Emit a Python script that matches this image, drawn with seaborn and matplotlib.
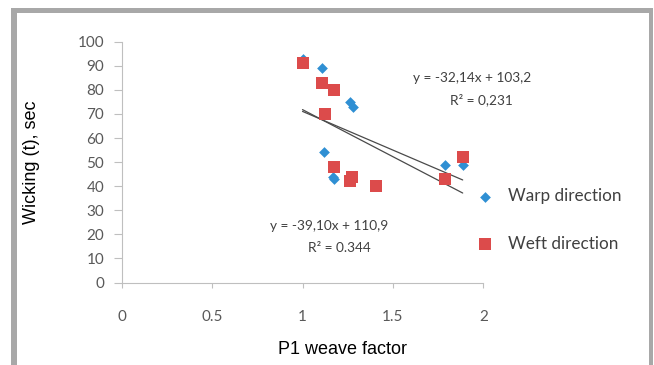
import matplotlib
matplotlib.use("Agg")
import matplotlib.pyplot as plt
from matplotlib.patches import Rectangle
import numpy as np
import pandas as pd
import seaborn as sns

# ---- data ----
warp_x = [1.00, 1.11, 1.263, 1.278, 1.121, 1.17, 1.175, 1.788, 1.886]
warp_y = [93, 89, 75, 73, 54, 44, 43, 49, 49]
weft_x = [1.00, 1.108, 1.174, 1.124, 1.174, 1.275, 1.263, 1.408, 1.788, 1.886]
weft_y = [91, 83, 80, 70, 48, 44, 42, 40, 43, 52]
series_names = ["Warp direction", "Weft direction"]
trend_slopes = [-32.14, -39.10]
trend_intercepts = [103.2, 110.9]
x_ticks = [0, 0.5, 1, 1.5, 2]
x_ticklabels = ["0", "0.5", "1", "1.5", "2"]
y_ticks = [0, 10, 20, 30, 40, 50, 60, 70, 80, 90, 100]

W, H = 654, 365
sns.set_theme(style="white")
plt.rcParams["font.family"] = ["Lato", "DejaVu Sans"]

fig = plt.figure(figsize=(W / 100, H / 100), dpi=100)
fig.patch.set_facecolor("white")
ax = fig.add_axes([121.7 / W, 1 - 282.5 / H, (483.3 - 121.7) / W, (282.5 - 41.7) / H])

warp_df = pd.DataFrame({"x": warp_x, "y": warp_y})
weft_df = pd.DataFrame({"x": weft_x, "y": weft_y})

# trend lines
all_x = warp_x + weft_x
xr = np.array([min(all_x), max(all_x)])
for m, b in zip(trend_slopes, trend_intercepts):
    tl = pd.DataFrame({"x": xr, "y": m * xr + b})
    sns.lineplot(data=tl, x="x", y="y", ax=ax, color="#4a4a4a", linewidth=0.9, zorder=2, legend=False)

blue = "#2F8FD3"
red = "#DC4B4B"
sns.scatterplot(data=warp_df, x="x", y="y", ax=ax, marker="D", s=30, color=blue,
                linewidth=0, zorder=3, label=series_names[0])
sns.scatterplot(data=weft_df, x="x", y="y", ax=ax, marker="s", s=72, color=red,
                linewidth=0, zorder=4, label=series_names[1])

ax.set_xlim(0, 2)
ax.set_ylim(0, 100)
ax.set_xticks(x_ticks)
ax.set_xticklabels(x_ticklabels)
ax.set_yticks(y_ticks)
ax.set_xlabel("")
ax.set_ylabel("")
for s in ["top", "right"]:
    ax.spines[s].set_visible(False)
for s in ["left", "bottom"]:
    ax.spines[s].set_color("#bfbfbf")
    ax.spines[s].set_linewidth(0.8)
ax.tick_params(axis="x", direction="out", length=3.6, width=0.8, color="#bfbfbf",
               pad=16, labelsize=11, labelcolor="#595959", bottom=True)
ax.tick_params(axis="y", direction="out", length=5.5, width=0.8, color="#bfbfbf",
               pad=7, labelsize=11, labelcolor="#595959", left=True)

# equation annotations
ax.text(1.937, 85.0, "y = -32,14x + 103,2", ha="center", va="center", fontsize=9.8, color="#404040")
ax.text(1.99, 75.8, "R² = 0,231", ha="center", va="center", fontsize=9.8, color="#404040")
ax.text(1.149, 23.5, "y = -39,10x + 110,9", ha="center", va="center", fontsize=9.8, color="#404040")
ax.text(1.205, 14.3, "R² = 0.344", ha="center", va="center", fontsize=9.8, color="#404040")

# legend
leg = ax.legend(loc="center left", bbox_to_anchor=(476 / W, 1 - 220 / H),
                bbox_transform=fig.transFigure, frameon=False, fontsize=12.3,
                handlelength=1.0, handletextpad=0.85, labelspacing=1.85, borderpad=0,
                borderaxespad=0)
for t in leg.get_texts():
    t.set_color("#404040")

# axis titles
fig.text(343 / W, 1 - 349 / H, "P1 weave factor", ha="center", va="center",
         fontsize=13, family=["Liberation Sans", "DejaVu Sans"], color="black")
fig.text(31 / W, 1 - 162 / H, "Wicking (t), sec", ha="center", va="center", rotation=90,
         fontsize=13, family=["Liberation Sans", "DejaVu Sans"], color="black")

# gray frame
fc = "#a8a8a8"
fig.patches.append(Rectangle((11 / W, 0), 6 / W, 1 - 8 / H, transform=fig.transFigure,
                             facecolor=fc, edgecolor="none", zorder=0))
fig.patches.append(Rectangle((11 / W, 1 - 13 / H), (653 - 11) / W, 5 / H, transform=fig.transFigure,
                             facecolor=fc, edgecolor="none", zorder=0))
fig.patches.append(Rectangle((649 / W, 0), 4 / W, 1 - 8 / H, transform=fig.transFigure,
                             facecolor=fc, edgecolor="none", zorder=0))

fig.savefig("out.png", dpi=100)
